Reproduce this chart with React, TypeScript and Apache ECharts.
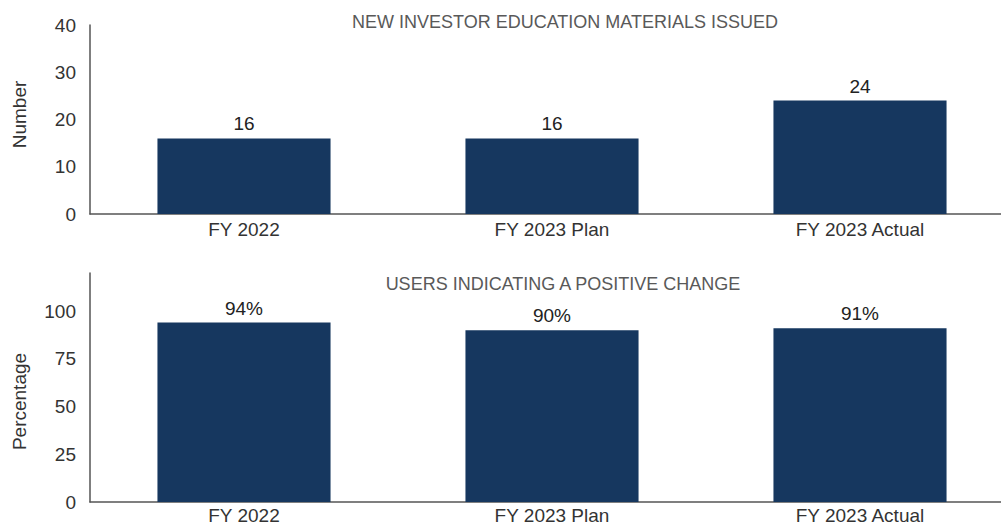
import React, { useEffect, useRef } from "react";
import * as echarts from "echarts";

const categories = ["FY 2022", "FY 2023 Plan", "FY 2023 Actual"];
const materialsIssued = [16, 16, 24];
const positiveChangePct = [94, 90, 91];
const topTitle = "NEW INVESTOR EDUCATION MATERIALS ISSUED";
const bottomTitle = "USERS INDICATING A POSITIVE CHANGE";

const FONT = "'Liberation Sans', Arial, Helvetica, sans-serif";
const BAR = "#16375f";
const TEXT = "#333333";
const AXIS = "#555555";

export default function App() {
  const ref = useRef<HTMLDivElement>(null);
  useEffect(() => {
    document.body.style.margin = "0";
    const chart = echarts.init(ref.current!, null, { renderer: "svg" });
    const xAxisBase = {
      type: "category" as const,
      data: categories,
      axisLine: { show: true, lineStyle: { color: AXIS, width: 1.5 } },
      axisTick: { show: false },
      axisLabel: { color: TEXT, fontSize: 19, fontFamily: FONT, margin: 6 },
    };
    const yAxisBase = {
      type: "value" as const,
      nameLocation: "middle" as const,
      nameRotate: 90,
      nameTextStyle: { color: TEXT, fontSize: 19, fontFamily: FONT },
      axisLine: { show: true, lineStyle: { color: AXIS, width: 1.5 } },
      axisTick: { show: false },
      splitLine: { show: false },
      axisLabel: { color: TEXT, fontSize: 19, fontFamily: FONT, margin: 14 },
    };
    const labelBase = {
      show: true,
      position: "top" as const,
      color: "#222222",
      fontSize: 19,
      fontFamily: FONT,
      distance: 5,
    };
    chart.setOption({
      animation: false,
      title: [
        {
          text: topTitle,
          left: 560,
          textAlign: "center",
          top: 8,
          textStyle: { color: "#595959", fontSize: 18, fontWeight: "normal", fontFamily: FONT },
        },
        {
          text: bottomTitle,
          left: 558,
          textAlign: "center",
          top: 270,
          textStyle: { color: "#595959", fontSize: 18, fontWeight: "normal", fontFamily: FONT },
        },
      ],
      grid: [
        { left: 90, width: 924, top: 25, height: 189, outerBoundsMode: "none", containLabel: false },
        { left: 90, width: 924, top: 273, height: 229, outerBoundsMode: "none", containLabel: false },
      ],
      xAxis: [
        { ...xAxisBase, gridIndex: 0 },
        { ...xAxisBase, gridIndex: 1, axisLabel: { ...xAxisBase.axisLabel, margin: 4 } },
      ],
      yAxis: [
        {
          ...yAxisBase,
          gridIndex: 0,
          min: 0,
          max: 40,
          interval: 10,
          name: "Number",
          nameGap: 61,
          nameTextStyle: { ...yAxisBase.nameTextStyle, padding: [0, 0, 0, 10] },
        },
        {
          ...yAxisBase,
          gridIndex: 1,
          min: 0,
          max: 120,
          interval: 25,
          name: "Percentage",
          nameGap: 61,
          nameTextStyle: { ...yAxisBase.nameTextStyle, padding: [0, 28, 0, 0] },
          axisLabel: { ...yAxisBase.axisLabel, showMaxLabel: false },
        },
      ],
      series: [
        {
          type: "bar",
          xAxisIndex: 0,
          yAxisIndex: 0,
          data: materialsIssued,
          barWidth: "56.2%",
          itemStyle: { color: BAR },
          label: labelBase,
        },
        {
          type: "bar",
          xAxisIndex: 1,
          yAxisIndex: 1,
          data: positiveChangePct,
          barWidth: "56.2%",
          itemStyle: { color: BAR },
          label: { ...labelBase, formatter: "{c}%" },
        },
      ],
    });
    return () => chart.dispose();
  }, []);
  return <div ref={ref} style={{ width: 1001, height: 525, overflow: "hidden" }} />;
}
